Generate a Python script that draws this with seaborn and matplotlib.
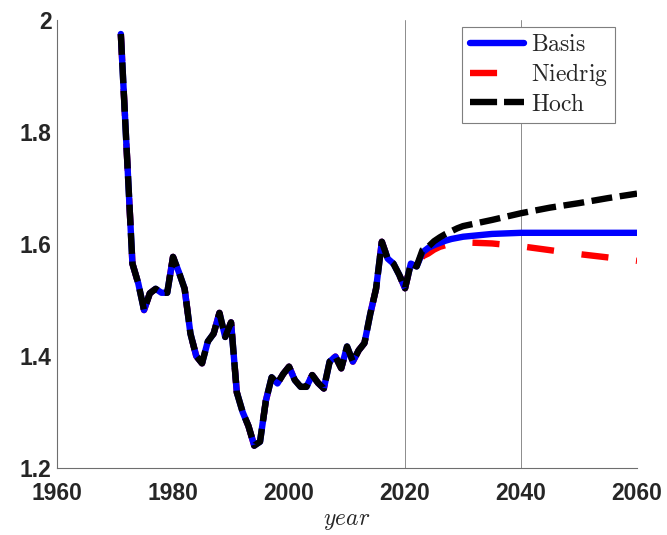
import numpy as np
import pandas as pd
import matplotlib
matplotlib.use("Agg")
import matplotlib.pyplot as plt
import seaborn as sns
from matplotlib.lines import Line2D

# ---------------- data ----------------
hist_years = list(range(1971, 2023))
hist_values = [1.975, 1.77, 1.565, 1.53, 1.482, 1.512, 1.52, 1.513, 1.513, 1.577,
               1.550, 1.52, 1.44, 1.40, 1.387, 1.426, 1.44, 1.477, 1.434, 1.46,
               1.335, 1.30, 1.275, 1.24, 1.247, 1.32, 1.362, 1.351, 1.368, 1.381,
               1.357, 1.345, 1.345, 1.366, 1.352, 1.342, 1.39, 1.399, 1.378, 1.417,
               1.39, 1.41, 1.423, 1.475, 1.52, 1.604, 1.574, 1.565, 1.545, 1.521,
               1.565, 1.56]
proj_years = [2023, 2024, 2025, 2026, 2027, 2028, 2029, 2030,
              2035, 2040, 2045, 2050, 2055, 2060]
basis_proj = [1.585, 1.593, 1.598, 1.602, 1.606, 1.609, 1.611, 1.613,
              1.618, 1.620, 1.620, 1.620, 1.620, 1.620]
niedrig_proj = [1.578, 1.583, 1.590, 1.595, 1.598, 1.600, 1.602, 1.603,
                1.601, 1.596, 1.589, 1.582, 1.576, 1.570]
hoch_proj = [1.589, 1.595, 1.605, 1.612, 1.618, 1.623, 1.628, 1.632,
             1.643, 1.655, 1.665, 1.673, 1.682, 1.690]
labels = ["Basis", "Niedrig", "Hoch"]
xticks = [1960, 1980, 2000, 2020, 2040, 2060]
yticks = [1.2, 1.4, 1.6, 1.8, 2.0]
ytick_labels = ["1.2", "1.4", "1.6", "1.8", "2"]

years = hist_years + proj_years
df = pd.DataFrame({
    "year": years,
    "Basis": hist_values + basis_proj,
    "Niedrig": hist_values + niedrig_proj,
    "Hoch": hist_values + hoch_proj,
})

# ---------------- style ----------------
sns.set_theme(style="white")
plt.rcParams["font.family"] = ["Liberation Sans", "DejaVu Sans"]
plt.rcParams["mathtext.fontset"] = "cm"
plt.rcParams["lines.scale_dashes"] = False

fig = plt.figure(figsize=(6.67, 5.35), dpi=100)
ax = fig.add_axes([0.0855, 0.1252, 0.8696, 0.8374])

lw = 4.6
# reference vertical lines
for xv in (2020, 2040):
    ax.axvline(xv, color="#8c8c8c", lw=0.7, zorder=0.5)

sns.lineplot(data=df, x="year", y="Niedrig", ax=ax, color="#ff0000", lw=lw,
             errorbar=None, zorder=2)
ax.lines[-1].set_linestyle((0, (19.5, 20.0)))
sns.lineplot(data=df, x="year", y="Basis", ax=ax, color="#0000ff", lw=lw,
             errorbar=None, zorder=3)
sns.lineplot(data=df, x="year", y="Hoch", ax=ax, color="#000000", lw=lw,
             errorbar=None, zorder=4)
ax.lines[-1].set_linestyle((0, (15.0, 5.5)))

ax.set_xlim(1960, 2060)
ax.set_ylim(1.2, 2.0)
ax.set_xticks(xticks)
ax.set_xticklabels([str(t) for t in xticks])
ax.set_yticks(yticks)
ax.set_yticklabels(ytick_labels)

for lab in ax.get_xticklabels() + ax.get_yticklabels():
    lab.set_fontweight("bold")
    lab.set_fontsize(16.5)
    lab.set_color("#262626")

ax.tick_params(axis="both", direction="in", length=4, width=0.6,
               color="#555555", pad=4)
ax.tick_params(axis="x", pad=10)

for s in ("top", "right"):
    ax.spines[s].set_visible(False)
for s in ("left", "bottom"):
    ax.spines[s].set_color("#6e6e6e")
    ax.spines[s].set_linewidth(0.8)

ax.set_xlabel(r"$year$", fontsize=17, color="#262626", labelpad=4)
ax.set_ylabel("")

handles = [
    Line2D([], [], color="#0000ff", lw=lw),
    Line2D([], [], color="#ff0000", lw=lw, linestyle=(0, (19.5, 20.0))),
    Line2D([], [], color="#000000", lw=lw, linestyle=(0, (19.5, 5.0))),
]
leg = ax.legend(handles, [r"$\mathrm{%s}$" % l for l in labels],
                loc="upper right", bbox_to_anchor=(0.962, 0.984),
                borderaxespad=0, frameon=True, fancybox=False,
                fontsize=17, handlelength=2.3, handletextpad=0.3,
                labelspacing=0.22, borderpad=0.3)
leg.get_frame().set_edgecolor("#7f7f7f")
leg.get_frame().set_linewidth(0.8)
leg.get_frame().set_facecolor("white")
leg.get_frame().set_alpha(1)

fig.savefig("out.png", dpi=100)
